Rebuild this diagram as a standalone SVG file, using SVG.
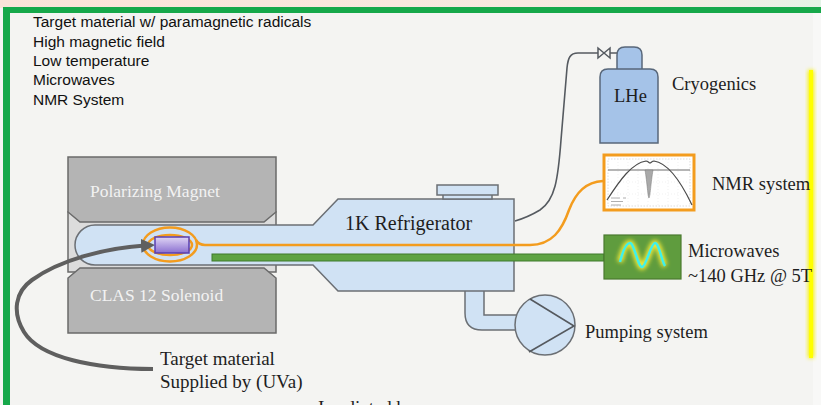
<svg xmlns="http://www.w3.org/2000/svg" width="821" height="405" viewBox="0 0 821 405">
  <defs>
    <style>
      .serif { font-family: "Liberation Serif", "DejaVu Serif", serif; fill: #1e1e1e; font-size: 18.5px; }
      .sans { font-family: "Liberation Sans", Arial, sans-serif; font-size: 15.5px; fill: #111; }
      .mag { fill: #b4b4b4; stroke: #6a6a6a; stroke-width: 1.5; }
      .magtxt { font-family: "Liberation Serif", "DejaVu Serif", serif; font-size: 17.5px; fill: #f2f2f2; }
      .blue { fill: #d0e2f4; stroke: #6b6f74; stroke-width: 1.5; }
      .orange { fill: none; stroke: #f39c1e; stroke-width: 2.5; }
      .dark { fill: none; stroke: #555a60; stroke-width: 1.6; }
    </style>
    <linearGradient id="topStrip" x1="0" y1="0" x2="1" y2="0">
      <stop offset="0" stop-color="#fbe3d8"/>
      <stop offset="0.8" stop-color="#f6ebe2"/>
      <stop offset="1" stop-color="#e4f3e6"/>
    </linearGradient>
    <linearGradient id="sampleGrad" x1="0" y1="0" x2="0" y2="1">
      <stop offset="0" stop-color="#e0d6f5"/>
      <stop offset="1" stop-color="#8a6fd0"/>
    </linearGradient>
    <filter id="soft" x="-50%" y="-50%" width="200%" height="200%">
      <feGaussianBlur stdDeviation="2"/>
    </filter>
    <marker id="grayHead" markerUnits="userSpaceOnUse" markerWidth="16" markerHeight="16" refX="4" refY="7" orient="auto">
      <path d="M0,0 L14,7 L0,14 Z" fill="#5f5f5f"/>
    </marker>
  </defs>

  <!-- page frame -->
  <g id="frame">
    <rect x="0" y="0" width="821" height="405" fill="#f4f4f2"/>
    <rect x="0" y="0" width="821" height="8" fill="url(#topStrip)"/>
    <rect x="3" y="7" width="818" height="6" fill="#16a84a"/>
    <rect x="3" y="7" width="7" height="398" fill="#16a84a"/>
    <rect x="813" y="13" width="8" height="392" fill="#f8f8f7"/>
    <rect x="808" y="70" width="6" height="288" fill="#f6f000" filter="url(#soft)"/>
    <rect x="809" y="70" width="4" height="288" fill="#ffff00"/>
  </g>

  <!-- requirement list -->
  <g id="requirements" class="sans">
    <text x="33" y="27">Target material w/ paramagnetic radicals</text>
    <text x="33" y="47">High magnetic field</text>
    <text x="33" y="66">Low temperature</text>
    <text x="33" y="85">Microwaves</text>
    <text x="33" y="105">NMR System</text>
  </g>

  <!-- magnet yoke -->
  <g id="magnet">
    <rect x="68" y="212" width="208" height="60" fill="#dcdcdc" stroke="#6a6a6a" stroke-width="1.5"/>
    <path class="mag" d="M68,157 H276 V212 L264,222 H80 L68,212 Z"/>
    <path class="mag" d="M68,278 L80,268 H264 L276,278 V333 H68 Z"/>
    <text class="magtxt" x="90" y="197">Polarizing Magnet</text>
    <text class="magtxt" x="90" y="301">CLAS 12 Solenoid</text>
  </g>

  <!-- pumping line -->
  <g id="pump-line">
    <path class="blue" d="M465,289 V313 Q465,330 482,330 H520 V315 H484 V289 Z"/>
  </g>

  <!-- cryostat bore and 1K refrigerator -->
  <g id="refrigerator">
    <path class="blue" d="M95,225 H313 L338,199 H514 V291 H338 L313,265 H95 A20,20 0 0 1 95,225 Z"/>
    <rect class="blue" x="443" y="194" width="49" height="5"/>
    <rect class="blue" x="437" y="185" width="61" height="10"/>
    <text class="serif" x="345" y="230" style="font-size:20px">1K Refrigerator</text>
  </g>

  <!-- connectors -->
  <g id="connectors">
    <path class="dark" d="M598,53 H578 C570,53 568,58 567,68 L561,140 C558,180 555,200 540,210 C530,216 522,219 515,221"/>
    <path class="orange" d="M603,181 C586,182 576,192 569,210 C562,230 552,245 530,245 H205 Q199,245 196,240"/>
    <ellipse class="orange" cx="170" cy="244.5" rx="27" ry="17"/>
    <ellipse class="orange" cx="170" cy="245" rx="22" ry="10"/>
    <rect x="212" y="254" width="392" height="7" fill="#5ea343" stroke="#3f7a2c" stroke-width="1"/>
    <path d="M153,369 C95,369 40,358 24,332 C12,312 15,292 32,280 C60,260 105,248 145,245.5" fill="none" stroke="#5f5f5f" stroke-width="4" marker-end="url(#grayHead)"/>
  </g>

  <!-- target sample -->
  <g id="sample">
    <rect x="155" y="237" width="34" height="16" fill="url(#sampleGrad)" stroke="#5a3fb0" stroke-width="1.5"/>
  </g>

  <!-- liquid helium dewar -->
  <g id="lhe">
    <path d="M617,69 V55 Q617,47 625,47 H634 Q642,47 642,55 V69" fill="#a5c3e8" stroke="#58677a" stroke-width="1.5"/>
    <path d="M600,143 V77 Q600,69 608,69 H650 Q658,69 658,77 V143 Z" fill="#a5c3e8" stroke="#58677a" stroke-width="1.5"/>
    <path d="M598,48 L610,58 V48 L598,58 Z M610,53 H617" fill="none" stroke="#555a60" stroke-width="1.5"/>
    <text class="serif" x="614" y="102">LHe</text>
    <text class="serif" x="672" y="90">Cryogenics</text>
  </g>

  <!-- NMR readout -->
  <g id="nmr">
    <rect x="604" y="155" width="90" height="55" fill="#ffffff" stroke="#f39c1e" stroke-width="3"/>
    <rect x="608" y="159" width="82" height="47" fill="none" stroke="#c8c8c8" stroke-width="0.6" stroke-dasharray="1.5 1.5"/>
    <path d="M618,159 V206 M628,159 V206 M638,159 V206 M648,159 V206 M658,159 V206 M668,159 V206 M678,159 V206 M608,182 H690 M608,194 H690" stroke="#e2e2e2" stroke-width="0.5" stroke-dasharray="1 2"/>
    <line x1="608" y1="170" x2="690" y2="170" stroke="#6d6d6d" stroke-width="1"/>
    <path d="M645,170 C647,182 648,198 649,198 C650,198 651,182 653,170 Z" fill="#a9a9a9" stroke="#777" stroke-width="0.5"/>
    <path d="M607,200 C620,180 632,163 646,161 C648,161 649,163 650,163 C651,163 652,161 654,161 C668,163 682,184 692,205" fill="none" stroke="#4a4a4a" stroke-width="1.2"/>
    <path d="M611,198 H620 M611,201.5 H623 M611,205 H621 M623,198 H626" stroke="#9a9a9a" stroke-width="0.8"/>
    <text class="serif" x="712" y="190">NMR system</text>
  </g>

  <!-- microwave source -->
  <g id="microwaves">
    <rect x="604" y="235" width="77" height="44" fill="#5f9c3e" stroke="#4a7a30" stroke-width="1.2"/>
    <path d="M620,262 C623,250 626,243 630,243 C634,243 638,267 642,267 C646,267 651,243 655,243 C659,243 662,262 665,266" fill="none" stroke="#f0ea3a" stroke-width="6" filter="url(#soft)"/>
    <path d="M620,262 C623,250 626,243 630,243 C634,243 638,267 642,267 C646,267 651,243 655,243 C659,243 662,262 665,266" fill="none" stroke="#3ff0ea" stroke-width="2.5"/>
    <text class="serif" x="688" y="257">Microwaves</text>
    <text class="serif" x="688" y="282">~140 GHz @ 5T</text>
  </g>

  <!-- vacuum pump -->
  <g id="pump">
    <circle class="blue" cx="545" cy="325" r="30" stroke="#55595e"/>
    <path d="M530,299 L574,326 L529,352" fill="none" stroke="#55595e" stroke-width="1.6"/>
    <text class="serif" x="585" y="338">Pumping system</text>
  </g>

  <!-- target label -->
  <g id="target-label" class="serif" style="font-size:19px">
    <text x="160" y="365">Target material</text>
    <text x="160" y="388">Supplied by (UVa)</text>
    <text x="318" y="414">Irradiated b</text>
  </g>
</svg>
